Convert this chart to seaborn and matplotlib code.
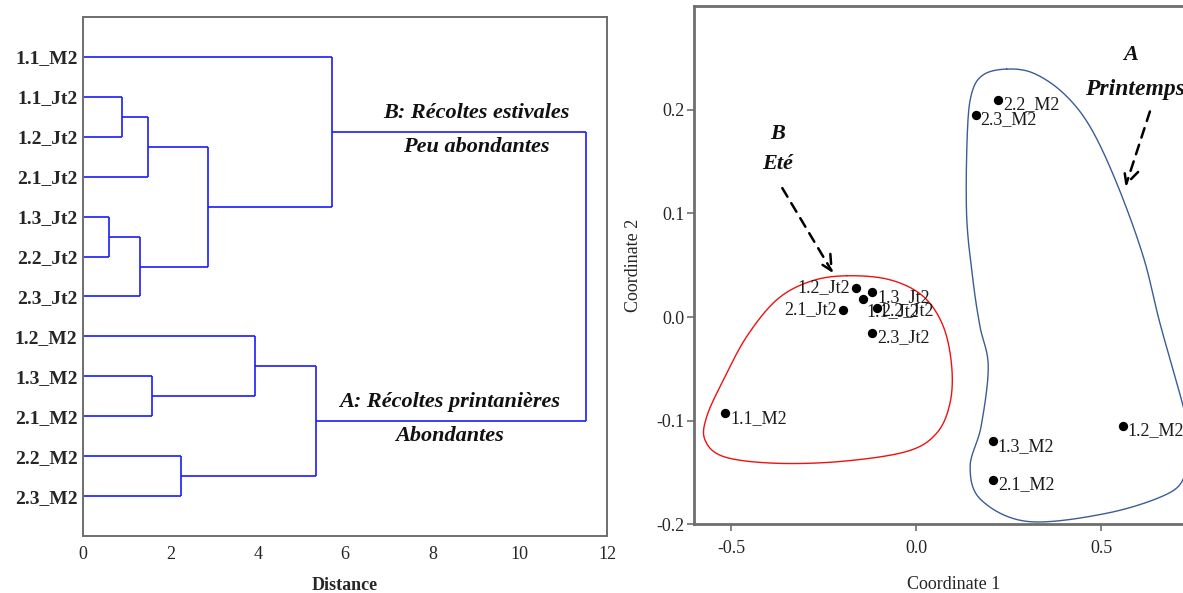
import numpy as np
import matplotlib
matplotlib.use("Agg")
import matplotlib.pyplot as plt
import seaborn as sns
import pandas as pd

# ---------------- data ----------------
# Dendrogram (leaves from top to bottom)
leaves = ["1.1_M2", "1.1_Jt2", "1.2_Jt2", "2.1_Jt2", "1.3_Jt2", "2.2_Jt2",
          "2.3_Jt2", "1.2_M2", "1.3_M2", "2.1_M2", "2.2_M2", "2.3_M2"]
# merges: (child_a, child_b, distance); new nodes numbered from len(leaves)
merge_a = [1, 12, 4, 14, 13, 0, 8, 7, 10, 19, 17]
merge_b = [2, 3, 5, 6, 15, 16, 9, 18, 11, 20, 21]
merge_height = [0.89, 1.49, 0.59, 1.30, 2.87, 5.71, 1.57, 3.95, 2.25, 5.33, 11.52]
dist_ticks = [0, 2, 4, 6, 8, 10, 12]

# MDS coordinates
mds_labels = ["1.1_M2", "1.2_M2", "1.3_M2", "2.1_M2", "2.2_M2", "2.3_M2",
              "1.1_Jt2", "1.2_Jt2", "1.3_Jt2", "2.1_Jt2", "2.2_Jt2", "2.3_Jt2"]
coord1 = [-0.517, 0.557, 0.206, 0.207, 0.220, 0.160,
          -0.143, -0.163, -0.119, -0.198, -0.105, -0.120]
coord2 = [-0.093, -0.105, -0.120, -0.157, 0.210, 0.195,
          0.017, 0.028, 0.024, 0.007, 0.009, -0.015]
c1_ticks = [-0.5, 0.0, 0.5]
c2_ticks = [-0.2, -0.1, 0.0, 0.1, 0.2]

# hand-drawn group outlines (annotation shapes)
hull_B_x = [-0.188, -0.071, 0.019, 0.073, 0.0956, 0.091, 0.055, -0.026, -0.206,
            -0.386, -0.521, -0.571, -0.566, -0.521, -0.458, -0.377, -0.287]
hull_B_y = [0.0399, 0.036, 0.0199, -0.0091, -0.0477, -0.083, -0.112, -0.1297, -0.1394,
            -0.141, -0.1346, -0.1184, -0.0959, -0.0605, -0.0187, 0.0167, 0.0344]
hull_A_x = [0.244, 0.316, 0.397, 0.469, 0.5413, 0.613, 0.658, 0.7211, 0.745, 0.729,
            0.6819, 0.5162, 0.3016, 0.1749, 0.1454, 0.1749, 0.1943, 0.172, 0.154,
            0.136, 0.1378, 0.1497, 0.181]
hull_A_y = [0.2394, 0.2355, 0.2162, 0.184, 0.1293, 0.0585, -0.0058, -0.0863, -0.125,
            -0.15, -0.170, -0.1892, -0.1973, -0.1764, -0.1442, -0.1056, -0.0477,
            -0.0091, 0.0328, 0.0971, 0.1776, 0.2162, 0.2339]

# ---------------- style ----------------
sns.set_theme(style="white")
plt.rcParams["font.family"] = ["Liberation Serif", "DejaVu Serif"]

fig = plt.figure(figsize=(11.83, 5.93), dpi=100)
W, H = 1183, 593


def px_axes(left, top, right, bottom):
    return fig.add_axes([left / W, (H - bottom) / H, (right - left) / W, (bottom - top) / H])


spine_col = "#6e6e6e"

# ---------------- left: dendrogram ----------------
ax1 = px_axes(83, 17, 607, 536)
n = len(leaves)
node_x = {i: 0.0 for i in range(n)}
node_y = {i: float(i + 1) for i in range(n)}
line_col = "#1a1aff"
for k, (a, b, h) in enumerate(zip(merge_a, merge_b, merge_height)):
    nid = n + k
    ya, yb = node_y[a], node_y[b]
    ax1.plot([node_x[a], h], [ya, ya], color=line_col, lw=1.2, solid_capstyle="butt")
    ax1.plot([node_x[b], h], [yb, yb], color=line_col, lw=1.2, solid_capstyle="butt")
    ax1.plot([h, h], [ya, yb], color=line_col, lw=1.2, solid_capstyle="butt")
    node_x[nid] = h
    node_y[nid] = (ya + yb) / 2

ax1.set_xlim(0, 12)
ax1.set_ylim(n + 1, 0)
ax1.set_yticks(range(1, n + 1))
ax1.set_yticklabels(leaves, fontsize=14, fontweight="bold")
ax1.set_xticks(dist_ticks)
ax1.set_xticklabels([str(t) for t in dist_ticks], fontsize=13)
ax1.tick_params(axis="y", length=0, pad=4)
ax1.tick_params(axis="x", length=0, pad=7)
ax1.set_xlabel("Distance", fontsize=13, fontweight="bold", labelpad=10)
for s in ax1.spines.values():
    s.set_color(spine_col)
    s.set_linewidth(1.4)

grp_kw = dict(fontsize=16, fontweight="bold", fontstyle="italic", ha="center", va="center",
              color="#111111")
ax1.text(9.0, 2.4, "B: Récoltes estivales", **grp_kw)
ax1.text(9.0, 3.25, "Peu abondantes", **grp_kw)
ax1.text(8.4, 9.65, "A: Récoltes printanières", **grp_kw)
ax1.text(8.4, 10.5, "Abondantes", **grp_kw)

# ---------------- right: MDS scatter ----------------
ax2 = px_axes(694.2, 6.3, 694.2 + 1.4 * 370.2, 524.3)
df = pd.DataFrame({"label": mds_labels, "Coordinate 1": coord1, "Coordinate 2": coord2})


def closed_spline(xs, ys, m=30):
    P = np.column_stack([xs, ys])
    k = len(P)
    out = []
    for i in range(k):
        p0, p1, p2, p3 = P[(i - 1) % k], P[i], P[(i + 1) % k], P[(i + 2) % k]
        t = np.linspace(0, 1, m, endpoint=False)[:, None]
        seg = 0.5 * ((2 * p1) + (-p0 + p2) * t + (2 * p0 - 5 * p1 + 4 * p2 - p3) * t ** 2
                     + (-p0 + 3 * p1 - 3 * p2 + p3) * t ** 3)
        out.append(seg)
    out = np.vstack(out + [P[:1]])
    return out[:, 0], out[:, 1]


bx, by = closed_spline(hull_B_x, hull_B_y)
ax2.plot(bx, by, color="#ee1111", lw=1.0)
axx, ayy = closed_spline(hull_A_x, hull_A_y)
ax2.plot(axx, ayy, color="#3a5d95", lw=1.0)

sns.scatterplot(data=df, x="Coordinate 1", y="Coordinate 2", ax=ax2, color="black",
                s=45, edgecolor="black", linewidth=0, zorder=5)

label_offsets = {"1.2_Jt2": (-6, 0, "right"), "2.1_Jt2": (-6, 0, "right"),
                 "1.1_Jt2": (3, -12, "left"), "2.2_Jt2": (4, -3, "left")}
for lab, x, y in zip(mds_labels, coord1, coord2):
    dx, dy, ha = label_offsets.get(lab, (5, -5, "left"))
    ax2.annotate(lab, (x, y), xytext=(dx, dy), textcoords="offset pixels",
                 ha=ha, va="center", fontsize=13, color="#1a1a1a")

ax2.set_xlim(-0.6, 0.8)
ax2.set_ylim(-0.2, 0.3)
ax2.set_xticks(c1_ticks)
ax2.set_xticklabels(["-0.5", "0.0", "0.5"], fontsize=13)
ax2.set_yticks(c2_ticks)
ax2.set_yticklabels(["-0.2", "-0.1", "0.0", "0.1", "0.2"], fontsize=13)
ax2.tick_params(axis="both", direction="out", length=5, width=1.2, color=spine_col,
                left=True, bottom=True, pad=2)
ax2.tick_params(axis="x", pad=6)
ax2.set_xlabel("Coordinate 1", fontsize=13, labelpad=14)
ax2.set_ylabel("Coordinate 2", fontsize=13, labelpad=10)
for s in ax2.spines.values():
    s.set_color(spine_col)
    s.set_linewidth(2.0)

grp2 = dict(fontsize=16, fontweight="bold", fontstyle="italic", ha="center", va="center",
            color="#111111")
ax2.text(-0.375, 0.177, "B", **grp2)
ax2.text(-0.375, 0.148, "Eté", **grp2)
ax2.text(0.58, 0.253, "A", **grp2)
ax2.text(0.59, 0.220, "Printemps", fontsize=17, fontweight="bold", fontstyle="italic",
         ha="center", va="center", color="#111111")

arrow_kw = dict(arrowstyle="->,head_length=0.9,head_width=0.45", color="black", lw=1.8,
                linestyle=(0, (4, 3)), shrinkA=0, shrinkB=0)
ax2.annotate("", xy=(-0.225, 0.0425), xytext=(-0.362, 0.1245), arrowprops=arrow_kw)
ax2.annotate("", xy=(0.565, 0.126), xytext=(0.631, 0.1985), arrowprops=arrow_kw)

fig.savefig("out.png", dpi=100)
